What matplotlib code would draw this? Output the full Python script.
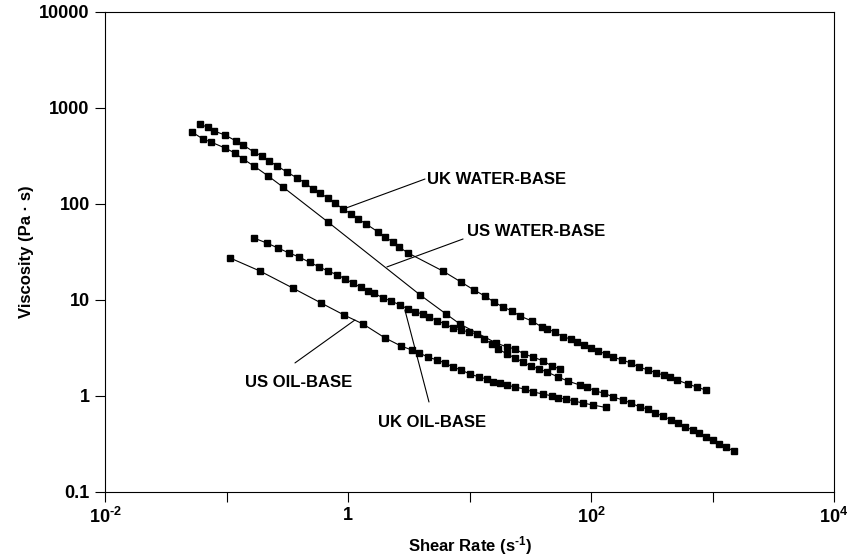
import matplotlib
matplotlib.use("Agg")
import matplotlib.pyplot as plt

plt.rcParams['font.family'] = ['Liberation Sans', 'DejaVu Sans']
plt.rcParams['font.weight'] = 'bold'
plt.rcParams['mathtext.fontset'] = 'custom'
plt.rcParams['mathtext.rm'] = 'Liberation Sans:bold'
plt.rcParams['mathtext.bf'] = 'Liberation Sans:bold'
plt.rcParams['mathtext.it'] = 'Liberation Sans:bold'
plt.rcParams['mathtext.default'] = 'bf'

# ---------------- data ----------------
uk_water_x = [0.0605, 0.070, 0.0789, 0.0973, 0.120, 0.137, 0.168, 0.196, 0.224, 0.261,
              0.315, 0.380, 0.443, 0.515, 0.589, 0.684, 0.782, 0.910, 1.06, 1.21,
              1.41, 1.77, 2.02, 2.35, 2.63, 3.12, 6.05, 8.51, 10.9, 13.4,
              15.9, 18.9, 22.4, 26.0, 32.7, 39.5, 43.4, 50.6, 58.9, 68.4,
              76.7, 87.5, 100, 114, 133, 152, 180, 213, 248, 294,
              343, 399, 447, 510, 628, 745, 885]
uk_water_y = [681, 629, 576, 523, 453, 412, 348, 316, 281, 249,
              215, 187, 166, 143, 130, 115, 102, 88.7, 78.7, 69.8,
              61.9, 51.1, 45.3, 40.2, 35.6, 30.9, 20.0, 15.4, 12.7, 11.0,
              9.53, 8.45, 7.68, 6.81, 6.04, 5.23, 4.99, 4.64, 4.12, 3.93,
              3.65, 3.40, 3.16, 2.94, 2.74, 2.55, 2.37, 2.21, 2.00, 1.87,
              1.74, 1.65, 1.58, 1.47, 1.33, 1.24, 1.15]

us_water_x = [0.052, 0.0641, 0.0745, 0.0973, 0.117, 0.137, 0.168, 0.220, 0.292, 0.684,
              3.92, 6.41, 8.35, 16.5, 20.4, 23.7, 28.1, 33.3, 40.3, 47.8, 55.6]
us_water_y = [562, 475, 442, 383, 340, 294, 249, 196, 150, 64.9,
              11.3, 7.15, 5.62, 3.57, 3.24, 3.09, 2.74, 2.55, 2.32, 2.05, 1.91]

uk_oil_x = [0.168, 0.215, 0.265, 0.327, 0.395, 0.486, 0.582, 0.684, 0.811, 0.944,
            1.10, 1.28, 1.46, 1.64, 1.94, 2.26, 2.68, 3.12, 3.56, 4.14,
            4.64, 5.40, 6.28, 7.31, 8.51, 9.91, 11.5, 13.2, 15.3, 17.2,
            20.4, 23.7, 27.5, 32.1, 37.3, 43.4, 53.5, 64.7, 81.1, 92.7,
            108, 128, 152, 183, 213, 253, 294, 336, 392, 455,
            520, 594, 692, 774, 885, 1010, 1130, 1290, 1500]
uk_oil_y = [44.2, 39.2, 34.8, 30.9, 28.1, 24.6, 22.1, 20.0, 18.4, 16.6,
            15.0, 13.5, 12.4, 11.8, 10.5, 9.77, 8.87, 8.06, 7.50, 7.15,
            6.65, 6.11, 5.62, 5.11, 4.87, 4.64, 4.42, 3.92, 3.48, 3.09,
            2.74, 2.49, 2.26, 2.05, 1.91, 1.78, 1.58, 1.43, 1.30, 1.24,
            1.13, 1.07, 0.977, 0.908, 0.845, 0.767, 0.733, 0.665, 0.619, 0.562,
            0.523, 0.475, 0.442, 0.412, 0.374, 0.348, 0.316, 0.294, 0.267]

us_oil_x = [0.107, 0.189, 0.352, 0.600, 0.927, 1.33, 2.02, 2.73, 3.36, 3.84,
            4.55, 5.40, 6.28, 7.31, 8.51, 10.1, 12.0, 13.9, 15.6, 17.8,
            20.4, 23.7, 28.6, 33.3, 40.3, 47.8, 53.5, 62.2, 72.4, 85.9,
            104, 133]
us_oil_y = [27.4, 20.0, 13.3, 9.31, 6.98, 5.62, 4.02, 3.32, 3.01, 2.81,
            2.55, 2.37, 2.21, 2.00, 1.87, 1.69, 1.58, 1.50, 1.40, 1.37,
            1.30, 1.24, 1.18, 1.10, 1.05, 1.00, 0.953, 0.931, 0.887, 0.845,
            0.805, 0.759]

x_ticks = [1e-2, 1e-1, 1, 1e1, 1e2, 1e3, 1e4]
x_ticklabels = ['$10^{\u20102}$', '', '1', '', r'$10^{2}$', '', r'$10^{4}$']
y_ticks = [0.1, 1, 10, 100, 1000, 10000]
y_ticklabels = ['0.1', '1', '10', '100', '1000', '10000']

# ---------------- plot ----------------
fig = plt.figure(figsize=(8.55, 5.6), dpi=100)
ax = fig.add_axes([105/855, 68/560, 729/855, 480/560])

style = dict(color='black', lw=0.8, marker='s', markersize=4.5,
             markerfacecolor='black', markeredgecolor='black')
for xs, ys in [(uk_water_x, uk_water_y), (us_water_x, us_water_y),
               (uk_oil_x, uk_oil_y), (us_oil_x, us_oil_y)]:
    ax.plot(xs, ys, **style)

ax.set_xscale('log')
ax.set_yscale('log')
ax.set_xlim(1e-2, 1e4)
ax.set_ylim(0.1, 1e4)
ax.set_xticks(x_ticks)
ax.set_xticklabels(x_ticklabels)
ax.set_yticks(y_ticks)
ax.set_yticklabels(y_ticklabels)
ax.minorticks_off()
ax.tick_params(direction='out', length=7, width=0.8, labelsize=13, pad=4)
for sp in ax.spines.values():
    sp.set_linewidth(0.8)

ax.set_xlabel('Shear Rate (s$^{\u20101}$)', fontsize=12, fontweight='bold', labelpad=5)
ax.set_ylabel('Viscosity (Pa \u00b7 s)', fontsize=12, fontweight='bold', labelpad=4)

lbl = dict(fontsize=12, fontweight='bold', va='center')
line = dict(arrowstyle='-', color='black', lw=0.8, shrinkA=0, shrinkB=0)
ax.annotate('', xy=(0.964, 90.8), xytext=(4.30, 182), arrowprops=line)
ax.text(4.47, 178, 'UK WATER-BASE', ha='left', **lbl)
ax.annotate('', xy=(2.09, 22.1), xytext=(8.85, 43.2), arrowprops=line)
ax.text(9.54, 52.3, 'US WATER-BASE', ha='left', **lbl)
ax.annotate('', xy=(1.14, 6.19), xytext=(0.366, 2.21), arrowprops=line)
ax.text(0.395, 1.37, 'US OIL-BASE', ha='center', **lbl)
ax.annotate('', xy=(2.94, 7.87), xytext=(4.64, 0.866), arrowprops=line)
ax.text(4.91, 0.536, 'UK OIL-BASE', ha='center', **lbl)

fig.savefig('out.png', dpi=100)
